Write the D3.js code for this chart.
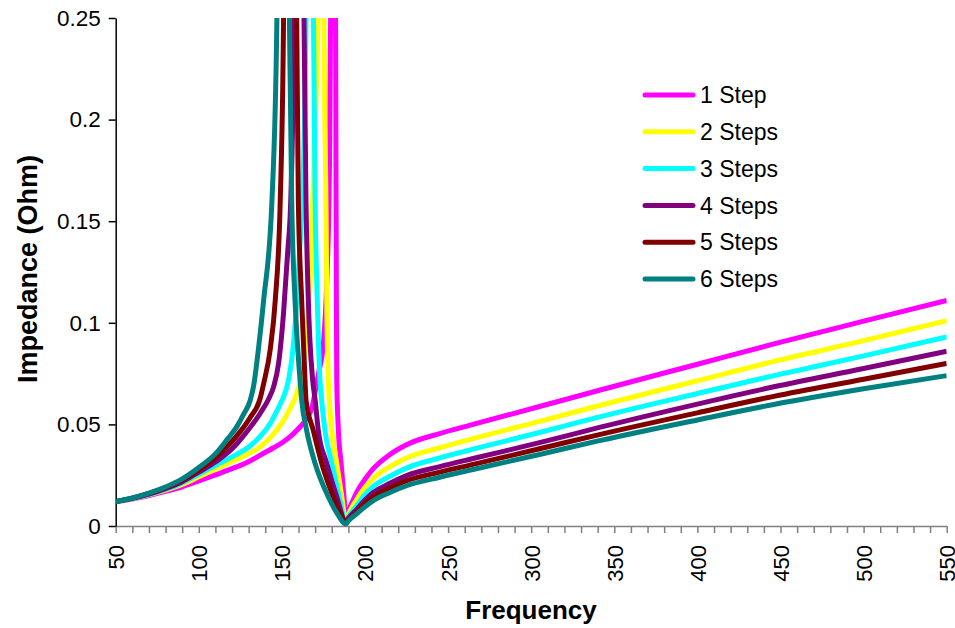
<!DOCTYPE html>
<html>
<head>
<meta charset="utf-8">
<script src="https://cdn.jsdelivr.net/npm/d3@7"></script>
<style>
  body { margin: 0; background: #fff; }
  text { font-family: Arial, "Liberation Sans", sans-serif; }
</style>
</head>
<body>
<div id="chart"></div>
<script>
// Series names, in legend order
const seriesNames = ["1 Step", "2 Steps", "3 Steps", "4 Steps", "5 Steps", "6 Steps"];
const seriesColors = ["#ff00ff", "#ffff00", "#00ffff", "#800080", "#800000", "#008080"];

// Values: [frequency, impedance]
// (values above 0.25 run off the top of the plot)
const step1 = [[50,0.012],[60,0.0133],[70,0.015],[80,0.017],[90,0.0193],[100,0.0222],[110,0.0252],[120,0.0282],[127,0.0305],[133,0.033],[139,0.0358],[145,0.0385],[151,0.0415],[155,0.044],[160,0.048],[165,0.053],[168,0.058],[170,0.066],[172,0.075],[175,0.09],[177,0.12],[178.5,0.17],[179.3,0.25],[180.3,0.6],
  [181.8,0.6],[182.3,0.25],[182.6,0.16],[182.8,0.111],[183,0.072],[184,0.047],[185.6,0.031],[187.4,0.014],[188.5,0.002],[190,0.007],[193,0.013],[195,0.0165],[200,0.023],[205,0.0282],[215,0.0352],[225,0.040],[245,0.0455],[265,0.050],[305,0.0588],[341,0.0668],[400,0.0796],[446,0.0896],[500,0.1008],[550,0.111]];
const step2 = [[50,0.012],[60,0.0134],[70,0.0153],[80,0.0176],[90,0.0204],[100,0.0242],[110,0.028],[120,0.0317],[131,0.036],[137,0.039],[143,0.0435],[151,0.052],[155,0.058],[158,0.063],[161,0.071],[163,0.080],[165.5,0.100],[167,0.12],[168.5,0.16],[170.5,0.21],[171.7,0.25],[173,0.6],
  [174,0.6],[175.3,0.25],[176.5,0.16],[177,0.111],[177.9,0.072],[178.5,0.062],[180,0.047],[183,0.031],[186,0.0144],[188.5,0.002],[190,0.0055],[195,0.013],[200,0.019],[205,0.0235],[215,0.0292],[225,0.0335],[245,0.0385],[265,0.043],[305,0.0515],[341,0.0593],[400,0.0715],[446,0.081],[500,0.0912],[550,0.101]];
const step3 = [[50,0.012],[60,0.0135],[70,0.0155],[80,0.018],[90,0.0212],[100,0.0255],[110,0.0298],[120,0.034],[131,0.0395],[143,0.0505],[149,0.060],[151,0.0636],[154,0.0719],[157,0.09],[159,0.111],[161,0.14],[162.3,0.16],[164.5,0.25],[166.3,0.6],
  [167.5,0.6],[169,0.25],[170,0.16],[171.3,0.111],[172.9,0.072],[173.9,0.062],[175.9,0.047],[180,0.031],[184.5,0.0144],[188.5,0.002],[190,0.0045],[195,0.010],[200,0.0155],[205,0.0195],[215,0.0245],[225,0.0285],[245,0.0335],[265,0.0378],[305,0.046],[341,0.0537],[400,0.0652],[446,0.074],[500,0.0837],[550,0.093]];
const step4 = [[50,0.012],[60,0.0136],[70,0.0157],[80,0.0184],[90,0.0218],[100,0.0265],[110,0.0315],[120,0.038],[127,0.0445],[137,0.0555],[142,0.0625],[145,0.0685],[148,0.080],[151,0.105],[153.5,0.135],[155.3,0.16],[157.3,0.25],[158.8,0.6],
  [160,0.6],[163.3,0.25],[164.5,0.16],[165.9,0.111],[168.5,0.072],[170,0.062],[171.9,0.047],[176.9,0.031],[183,0.0144],[188.5,0.002],[190,0.0038],[195,0.0082],[200,0.0128],[205,0.0165],[215,0.021],[225,0.0248],[245,0.0292],[265,0.0332],[305,0.041],[341,0.0485],[400,0.060],[446,0.0685],[500,0.0775],[550,0.086]];
const step5 = [[50,0.012],[60,0.0137],[70,0.016],[80,0.0188],[90,0.0225],[100,0.0275],[110,0.0335],[117,0.039],[123,0.0445],[131,0.0535],[137,0.063],[139,0.070],[143,0.087],[146,0.111],[149,0.16],[151,0.25],[153.5,0.6],
  [155,0.6],[158.9,0.25],[159.9,0.16],[161.9,0.111],[163.9,0.072],[164.5,0.062],[168.9,0.047],[173.9,0.031],[180.9,0.0144],[185,0.0064],[188.5,0.002],[190,0.003],[195,0.007],[200,0.0112],[205,0.0145],[215,0.0188],[225,0.0223],[245,0.0265],[265,0.0303],[305,0.038],[341,0.045],[400,0.0557],[446,0.0638],[500,0.0722],[550,0.080]];
const step6 = [[50,0.012],[60,0.0138],[70,0.0162],[80,0.0192],[90,0.0232],[100,0.0288],[110,0.0355],[117,0.0425],[123,0.049],[127,0.055],[131,0.062],[133,0.069],[136,0.088],[139,0.111],[144,0.16],[147,0.25],[149.5,0.6],
  [151.5,0.6],[154.5,0.25],[155.9,0.16],[157.9,0.111],[160.9,0.072],[161.9,0.062],[164.9,0.047],[169.9,0.031],[177.9,0.0144],[183,0.0065],[188.5,0.001],[190,0.0025],[195,0.006],[200,0.0095],[205,0.0125],[215,0.0165],[225,0.0198],[245,0.024],[265,0.0278],[305,0.0352],[341,0.042],[400,0.0522],[446,0.0598],[500,0.0675],[550,0.074]];

const seriesData = [step1, step2, step3, step4, step5, step6];

// Axis ticks
const xTicks = d3.range(50, 551, 10);
const yTicks = [0, 0.05, 0.1, 0.15, 0.2, 0.25];

// SVG dimensions
const svgWidth = 955;
const svgHeight = 628;

const svg = d3.select("#chart")
  .append("svg")
  .attr("width", svgWidth)
  .attr("height", svgHeight);

// Scales
const x = d3.scaleLinear().domain([50, 550]).range([115.7, 946.7]);
const y = d3.scaleLinear().domain([0, 0.25]).range([526, 18]);

// Clip the curves at the plot area
svg.append("defs").append("clipPath")
  .attr("id", "plotClip")
  .append("rect")
  .attr("x", x(50))
  .attr("y", y(0.25))
  .attr("width", x(550) - x(50))
  .attr("height", y(0) - y(0.25));

// X axis
const xAxis = svg.append("g")
  .attr("transform", `translate(0,${y(0)})`)
  .call(d3.axisBottom(x)
    .tickValues(xTicks)
    .tickSize(7)
    .tickSizeOuter(0)
    .tickFormat(d => d % 50 === 0 ? d : ""));

xAxis.select(".domain").attr("stroke", "#808080").attr("stroke-width", 1.5);
xAxis.selectAll(".tick line").attr("stroke", "#808080").attr("stroke-width", 1.5);
xAxis.selectAll(".tick text")
  .attr("transform", "rotate(-90)")
  .attr("text-anchor", "end")
  .attr("x", -19)
  .attr("y", 0)
  .attr("dy", "0.36em")
  .attr("font-size", 22)
  .attr("fill", "#000");

// Y axis
const yAxis = svg.append("g")
  .attr("transform", `translate(${x(50)},0)`)
  .call(d3.axisLeft(y)
    .tickValues(yTicks)
    .tickSize(7)
    .tickSizeOuter(0)
    .tickPadding(8)
    .tickFormat(d => d === 0 ? "0" : String(+d.toFixed(2))));

yAxis.select(".domain").attr("stroke", "#000").attr("stroke-width", 1.5);
yAxis.selectAll(".tick line").attr("stroke", "#000").attr("stroke-width", 1.5);
yAxis.selectAll(".tick text")
  .attr("font-size", 22.5)
  .attr("fill", "#000");

// Lines
const lineGen = d3.line()
  .curve(d3.curveMonotoneX)
  .x(d => x(d[0]))
  .y(d => y(d[1]));

svg.append("g")
  .attr("clip-path", "url(#plotClip)")
  .selectAll("path")
  .data(seriesData)
  .enter()
  .append("path")
  .attr("d", lineGen)
  .attr("fill", "none")
  .attr("stroke", (d, i) => seriesColors[i])
  .attr("stroke-width", 5)
  .attr("stroke-linejoin", "round");

// Axis titles
svg.append("text")
  .attr("x", 531)
  .attr("y", 619)
  .attr("text-anchor", "middle")
  .attr("font-size", 26)
  .attr("font-weight", "bold")
  .text("Frequency");

svg.append("text")
  .attr("transform", "translate(37,269) rotate(-90)")
  .attr("text-anchor", "middle")
  .attr("font-size", 27)
  .attr("font-weight", "bold")
  .text("Impedance (Ohm)");

// Legend
const legend = svg.append("g")
  .selectAll("g")
  .data(seriesNames)
  .enter()
  .append("g")
  .attr("transform", (d, i) => `translate(645,${95 + i * 36.8})`);

legend.append("line")
  .attr("x1", 0)
  .attr("x2", 48)
  .attr("stroke", (d, i) => seriesColors[i])
  .attr("stroke-width", 5)
  .attr("stroke-linecap", "round");

legend.append("text")
  .attr("x", 55)
  .attr("dy", "0.36em")
  .attr("font-size", 23)
  .text(d => d);
</script>
</body>
</html>
